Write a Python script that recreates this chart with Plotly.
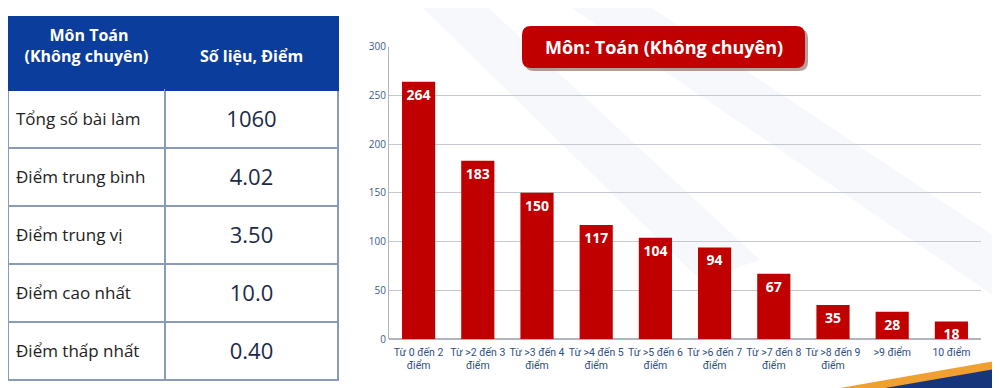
import plotly.graph_objects as go

# ---- data ----
table_header = ["Môn Toán<br>(Không chuyên)", "Số liệu, Điểm"]
table_labels = ["Tổng số bài làm", "Điểm trung bình", "Điểm trung vị", "Điểm cao nhất", "Điểm thấp nhất"]
table_values = ["1060", "4.02", "3.50", "10.0", "0.40"]

categories = ["Từ 0 đến 2<br>điểm", "Từ >2 đến 3<br>điểm", "Từ >3 đến 4<br>điểm", "Từ >4 đến 5<br>điểm",
              "Từ >5 đến 6<br>điểm", "Từ >6 đến 7<br>điểm", "Từ >7 đến 8<br>điểm", "Từ >8 đến 9<br>điểm",
              ">9 điểm", "10 điểm"]
counts = [264, 183, 150, 117, 104, 94, 67, 35, 28, 18]
chart_title = "Môn: Toán (Không chuyên)"

W, H = 1000, 388
OFF = 8  # page body margin compensation
def px(x): return (x - OFF) / W
def py(y): return 1 - (y - OFF) / H

# header: first line padded so both lines look centred (plotly aligns the block, not each line)
h0_lines = table_header[0].split("<br>")
hdr = ["<b>" + "&nbsp;" * 6 + h0_lines[0] + "</b><br><b>" + h0_lines[1] + "</b>",
       f"&nbsp;<br><b>{table_header[1]}</b>"]
lab = [f"&nbsp;<br><span style='font-size:17px'>{t}</span>" for t in table_labels]
val = [f"&nbsp;<br><span style='font-size:22px'>{t}</span>" for t in table_values]

fig = go.Figure()

def poly(pts):
    return "M " + " L ".join(f"{px(x)},{py(y)}" for x, y in pts) + " Z"

# faint background watermark stripes
for pts in [[(415, 0), (480, 0), (760, 260), (700, 280)],
            [(560, 0), (640, 0), (1000, 240), (1000, 300)]]:
    fig.add_shape(type="path", xref="paper", yref="paper", path=poly(pts),
                  fillcolor="rgba(214,225,242,0.22)", line=dict(width=0), layer="below")

fig.add_trace(go.Table(
    domain=dict(x=[px(8), px(338)], y=[py(382), py(16)]),
    columnwidth=[157, 173],
    header=dict(values=hdr, fill_color="#0b3d9c", line=dict(color="#0b3d9c", width=1),
                font=dict(family="Open Sans", size=16, color="white"), align="center", height=74),
    cells=dict(values=[lab, val], fill_color="white",
               line=dict(color="#8a9bb8", width=1.5),
               font=dict(family="Open Sans", size=[11.5, 12.5], color=["#222222", "#1b2a4a"]),
               align=["left", "center"], height=58),
))

fig.add_trace(go.Bar(
    x=categories, y=counts, marker=dict(color="#c00000", line=dict(width=0)),
    text=[f"<b>{v}</b>" for v in counts], textposition="inside", insidetextanchor="end",
    textangle=0, textfont=dict(family="Open Sans", size=14, color="white"), constraintext="none",
    cliponaxis=False, showlegend=False,
))

fig.update_layout(
    width=W, height=H, margin=dict(l=0, r=0, t=0, b=0, autoexpand=False),
    paper_bgcolor="white", plot_bgcolor="rgba(0,0,0,0)",
    bargap=0.44, showlegend=False,
    xaxis=dict(domain=[px(389), px(981)], showgrid=False, ticks="", showline=False, automargin=False,
               tickangle=0, ticklabelstandoff=5,
               tickfont=dict(family="Roboto", size=10.5, color="#2f4f86")),
    yaxis=dict(domain=[py(339), py(46.7)], range=[0, 300], dtick=50, showgrid=True, automargin=False,
               gridcolor="#c4c8d0", gridwidth=1, zeroline=True, zerolinecolor="#b0b4bc",
               showline=True, linecolor="#b0b4bc", ticks="",
               tickfont=dict(family="Open Sans", size=10, color="#3c5a8c")),
)

def rrect(x0, y0, x1, y1, r):
    X0, X1 = px(x0), px(x1)
    Y0, Y1 = py(y1), py(y0)
    rx, ry = r / W, r / H
    return (f"M {X0+rx},{Y0} L {X1-rx},{Y0} Q {X1},{Y0} {X1},{Y0+ry} L {X1},{Y1-ry} "
            f"Q {X1},{Y1} {X1-rx},{Y1} L {X0+rx},{Y1} Q {X0},{Y1} {X0},{Y1-ry} L {X0},{Y0+ry} "
            f"Q {X0},{Y0} {X0+rx},{Y0} Z")

fig.add_shape(type="path", xref="paper", yref="paper", path=rrect(525, 29, 808, 71, 9),
              fillcolor="rgba(90,40,40,0.45)", line=dict(width=0), layer="above")
fig.add_shape(type="path", xref="paper", yref="paper", path=rrect(522, 26, 805, 68, 9),
              fillcolor="#c00000", line=dict(width=0), layer="above")
fig.add_annotation(x=px(663.5), y=py(47), xref="paper", yref="paper", text=f"<b>{chart_title}</b>",
                   xanchor="center", yanchor="middle",
                   showarrow=False, font=dict(family="Open Sans", size=18, color="white"))

# bottom-right decorative swoosh
fig.add_shape(type="path", xref="paper", yref="paper", path=poly([(840, 388), (1000, 360), (1000, 388)]),
              fillcolor="#f0a030", line=dict(width=0), layer="above")
fig.add_shape(type="path", xref="paper", yref="paper", path=poly([(885, 388), (1000, 368), (1000, 388)]),
              fillcolor="#16357a", line=dict(width=0), layer="above")

fig.write_html("out.html")
